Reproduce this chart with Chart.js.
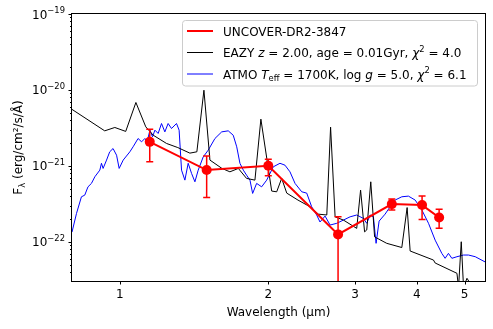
<!DOCTYPE html>
<html><head><meta charset="utf-8">
<script src="https://cdn.jsdelivr.net/npm/chart.js@4/dist/chart.umd.min.js"></script>
<style>html,body{margin:0;padding:0;background:#fff;}canvas{display:block;}</style>
</head><body>
<canvas id="c" width="493" height="329"></canvas>
<script>
// ---- Observed photometry (UNCOVER-DR2-3847) ----
const obsWave = [1.15, 1.50, 2.00, 2.77, 3.56, 4.10, 4.44];
const obsFlux = [2.07e-21, 8.8e-22, 1.0e-21, 1.25e-22, 3.13e-22, 3.04e-22, 2.09e-22];
const obsErrLow = [1.13e-21, 3.84e-22, 7.4e-22, 1e-30, 2.61e-22, 1.97e-22, 1.5e-22];
const obsErrHigh = [3.04e-21, 1.35e-21, 1.22e-21, 2.13e-22, 3.65e-22, 3.99e-22, 2.67e-22];

// ---- EAZY template ----
const eazyWave = [0.799,0.932,0.977,1.028,1.078,1.129,1.169,1.244,1.311,1.387,1.433,1.481,1.523,1.611,1.672,1.739,1.807,1.879,1.932,2.032,2.080,2.129,2.180,2.297,2.430,2.526,2.628,2.675,2.732,2.840,3.022,3.077,3.135,3.167,3.227,3.285,3.477,3.730,3.824,3.878,4.324,4.358,4.825,4.861,4.923,4.976,5.056,5.175];
const eazyFlux = [5.57e-21,2.89e-21,3.20e-21,2.84e-21,6.83e-21,3.26e-21,2.53e-21,1.97e-21,1.74e-21,1.47e-21,1.53e-21,9.91e-21,1.19e-21,9.24e-22,8.34e-22,9.24e-22,6.83e-22,6.48e-22,4.12e-21,4.65e-22,4.55e-22,6.83e-22,4.37e-22,3.54e-22,2.89e-22,2.31e-22,2.25e-22,3.23e-21,2.13e-22,1.93e-22,1.50e-22,4.79e-22,1.35e-22,1.43e-22,6.16e-22,1.16e-22,9.53e-23,8.39e-23,2.82e-22,7.55e-23,5.74e-23,5.25e-23,3.84e-23,2.5e-23,1.0e-22,2.5e-23,3.30e-23,2.6e-23];

// ---- ATMO brown-dwarf model ----
const atmoWave = [0.800,0.817,0.836,0.849,0.862,0.876,0.890,0.911,0.918,0.925,0.940,0.954,0.969,0.985,0.997,1.016,1.048,1.064,1.089,1.107,1.124,1.136,1.151,1.165,1.178,1.196,1.215,1.234,1.253,1.273,1.303,1.319,1.334,1.355,1.376,1.398,1.420,1.442,1.476,1.511,1.559,1.609,1.659,1.698,1.726,1.752,1.780,1.807,1.836,1.859,1.894,1.939,1.985,2.047,2.112,2.162,2.213,2.266,2.338,2.393,2.449,2.507,2.546,2.607,2.669,2.754,2.840,2.930,3.022,3.117,3.167,3.217,3.267,3.308,3.355,3.450,3.532,3.615,3.730,3.847,3.970,4.097,4.225,4.358,4.496,4.566,4.637,4.712,4.825,4.976,5.093,5.255,5.506];
const atmoFlux = [1.34e-22,2.36e-22,3.91e-22,4.11e-22,5.29e-22,5.87e-22,7.17e-22,8.78e-22,1.08e-21,9.24e-22,1.19e-21,1.53e-21,1.69e-21,1.38e-21,9.24e-22,1.19e-21,1.53e-21,1.78e-21,2.29e-21,2.07e-21,2.29e-21,2.07e-21,2.95e-21,2.41e-21,2.95e-21,2.67e-21,3.61e-21,2.80e-21,3.61e-21,3.10e-21,3.61e-21,2.95e-21,8.78e-22,6.48e-22,1.08e-21,7.94e-22,6.16e-22,8.78e-22,1.31e-21,1.61e-21,2.29e-21,2.80e-21,2.89e-21,2.53e-21,1.78e-21,1.08e-21,8.78e-22,7.54e-22,6.48e-22,4.33e-22,5.87e-22,5.29e-22,6.48e-22,9.7e-22,1.08e-21,1.02e-21,8.34e-22,5.87e-22,4.55e-22,4.37e-22,2.89e-22,2.25e-22,1.82e-22,2.18e-22,1.66e-22,1.75e-22,1.93e-22,2.13e-22,2.25e-22,2.03e-22,1.75e-22,2.25e-22,2.13e-22,9.53e-23,1.87e-22,2.31e-22,2.89e-22,3.54e-22,3.91e-22,3.99e-22,3.54e-22,2.61e-22,1.75e-22,1.05e-22,7.03e-23,6.05e-23,7.03e-23,6.05e-23,6.35e-23,6.68e-23,6.68e-23,6.35e-23,5.41e-23];

// ---- Axes ----
const xRange = [0.8, 5.5];
const yRange = [3.04e-23, 1e-19];
const xTickVals = [1, 2, 3, 4, 5];
const xTickLabels = ['1', '2', '3', '4', '5'];
const yTickExps = [-22, -21, -20, -19];
const yTickLabels = ['\u221222', '\u221221', '\u221220', '\u221219'];

const legendLabels = [
  [{t:'UNCOVER-DR2-3847'}],
  [{t:'EAZY '},{t:'z',it:1},{t:' = 2.00, age = 0.01Gyr, '},{t:'\u03c7',it:1},{t:'2',sup:1},{t:' = 4.0'}],
  [{t:'ATMO '},{t:'T',it:1},{t:'eff',sub:1},{t:' = 1700K, log '},{t:'g',it:1},{t:' = 5.0, '},{t:'\u03c7',it:1},{t:'2',sup:1},{t:' = 6.1'}]
];
const colors = ['#ff0000', '#000000', '#0000ff'];

const FONT = '"DejaVu Sans", sans-serif';
const FS = 12;
function zip(a, b) { return a.map((v, i) => ({x: v, y: b[i]})); }

function richWidth(ctx, segs, size) {
  let w = 0;
  for (const s of segs) {
    const sz = (s.sup || s.sub) ? size * 0.7 : size;
    ctx.font = (s.it ? 'italic ' : '') + sz + 'px ' + FONT;
    w += ctx.measureText(s.t).width;
  }
  return w;
}
function drawRich(ctx, segs, x, y, size) {
  ctx.textBaseline = 'alphabetic';
  ctx.textAlign = 'left';
  for (const s of segs) {
    const sz = (s.sup || s.sub) ? size * 0.7 : size;
    ctx.font = (s.it ? 'italic ' : '') + sz + 'px ' + FONT;
    const dy = s.sup ? -size * 0.42 : (s.sub ? size * 0.22 : 0);
    ctx.fillText(s.t, x, y + dy);
    x += ctx.measureText(s.t).width;
  }
  return x;
}

const errorBars = {
  id: 'errorBars',
  afterDatasetsDraw(chart) {
    const {ctx, chartArea: a, scales: {x, y}} = chart;
    ctx.save();
    ctx.beginPath(); ctx.rect(a.left, a.top, a.right - a.left, a.bottom - a.top); ctx.clip();
    ctx.strokeStyle = colors[0]; ctx.lineWidth = 1.5;
    obsWave.forEach((w, i) => {
      const px = x.getPixelForValue(w);
      const y1 = y.getPixelForValue(obsErrHigh[i]);
      const y2 = Math.min(y.getPixelForValue(obsErrLow[i]), a.bottom + 5);
      ctx.beginPath();
      ctx.moveTo(px, y1); ctx.lineTo(px, y2);
      ctx.moveTo(px - 3.5, y1); ctx.lineTo(px + 3.5, y1);
      if (obsErrLow[i] > yRange[0]) { ctx.moveTo(px - 3.5, y2); ctx.lineTo(px + 3.5, y2); }
      ctx.stroke();
    });
    ctx.restore();
  }
};

const axesDeco = {
  id: 'axesDeco',
  afterDraw(chart) {
    const {ctx, chartArea: a, scales: {x, y}} = chart;
    ctx.save();
    ctx.strokeStyle = '#000'; ctx.lineWidth = 1;
    ctx.strokeRect(Math.round(a.left) - 0.5, Math.round(a.top) - 0.5, Math.round(a.right - a.left) + 1, Math.round(a.bottom - a.top) + 1);
    ctx.fillStyle = '#000';
    // x ticks
    ctx.beginPath();
    xTickVals.forEach(v => { const px = Math.round(x.getPixelForValue(v)) + 0.5; ctx.moveTo(px, a.bottom); ctx.lineTo(px, a.bottom + 3.5); });
    ctx.stroke();
    ctx.font = FS + 'px ' + FONT; ctx.textAlign = 'center'; ctx.textBaseline = 'middle';
    xTickVals.forEach((v, i) => ctx.fillText(xTickLabels[i], x.getPixelForValue(v), a.bottom + 14));
    // y ticks (major + minor)
    ctx.beginPath();
    for (let e = -23; e <= -19; e++) {
      for (let m = 1; m <= 9; m++) {
        const v = m * Math.pow(10, e);
        if (v < yRange[0] * 0.999 || v > yRange[1] * 1.001) continue;
        const py = Math.round(y.getPixelForValue(v)) + 0.5;
        ctx.moveTo(a.left, py); ctx.lineTo(a.left - (m === 1 ? 3.5 : 2), py);
      }
    }
    ctx.stroke();
    yTickExps.forEach((e, i) => {
      const py = y.getPixelForValue(Math.pow(10, e));
      const segs = [{t:'10'}, {t: yTickLabels[i], sup: 1}];
      const w = richWidth(ctx, segs, FS);
      drawRich(ctx, segs, a.left - 7 - w, py + 4.5, FS);
    });
    // axis titles
    ctx.font = FS + 'px ' + FONT; ctx.textAlign = 'center'; ctx.textBaseline = 'middle';
    ctx.fillText('Wavelength (\u03bcm)', (a.left + a.right) / 2, 313);
    const ysegs = [{t:'F'}, {t:'\u03bb', sub:1}, {t:' (erg/cm\u00b2/s/\u00c5)'}];
    const yw = richWidth(ctx, ysegs, FS);
    ctx.translate(22, (a.top + a.bottom) / 2);
    ctx.rotate(-Math.PI / 2);
    drawRich(ctx, ysegs, -yw / 2, 0, FS);
    ctx.restore();

    // legend
    ctx.save();
    const bx = 182.5, by = 20.5, bw = 295, bh = 65.5, r = 3;
    ctx.fillStyle = 'rgba(255,255,255,0.8)';
    ctx.strokeStyle = '#cccccc'; ctx.lineWidth = 1;
    ctx.beginPath();
    ctx.moveTo(bx + r, by); ctx.lineTo(bx + bw - r, by); ctx.quadraticCurveTo(bx + bw, by, bx + bw, by + r);
    ctx.lineTo(bx + bw, by + bh - r); ctx.quadraticCurveTo(bx + bw, by + bh, bx + bw - r, by + bh);
    ctx.lineTo(bx + r, by + bh); ctx.quadraticCurveTo(bx, by + bh, bx, by + bh - r);
    ctx.lineTo(bx, by + r); ctx.quadraticCurveTo(bx, by, bx + r, by);
    ctx.closePath(); ctx.fill(); ctx.stroke();
    const rows = [31, 52.5, 74];
    legendLabels.forEach((segs, i) => {
      ctx.strokeStyle = colors[i]; ctx.lineWidth = i === 0 ? 2 : 1;
      ctx.beginPath(); ctx.moveTo(187, rows[i]); ctx.lineTo(213, rows[i]); ctx.stroke();
      ctx.fillStyle = '#000';
      drawRich(ctx, segs, 223, rows[i] + 4.5, FS);
    });
    ctx.restore();
  }
};

new Chart(document.getElementById('c'), {
  type: 'scatter',
  data: {
    datasets: [
      {label: 'UNCOVER-DR2-3847', data: zip(obsWave, obsFlux), showLine: true, borderColor: colors[0], backgroundColor: colors[0], borderWidth: 2, pointRadius: 5, pointBorderWidth: 0, order: 0},
      {label: 'EAZY', data: zip(eazyWave, eazyFlux), showLine: true, borderColor: colors[1], borderWidth: 1, pointRadius: 0, clip: 0, order: 1},
      {label: 'ATMO', data: zip(atmoWave, atmoFlux), showLine: true, borderColor: colors[2], borderWidth: 1, pointRadius: 0, clip: 0, order: 2}
    ]
  },
  options: {
    responsive: false, animation: false, devicePixelRatio: 1,
    layout: {padding: {left: 72, top: 14, right: 8, bottom: 48}},
    plugins: {legend: {display: false}, tooltip: {enabled: false}},
    scales: {
      x: {type: 'logarithmic', min: xRange[0], max: xRange[1], display: false},
      y: {type: 'logarithmic', min: yRange[0], max: yRange[1], display: false}
    }
  },
  plugins: [errorBars, axesDeco]
});
</script>
</body></html>
